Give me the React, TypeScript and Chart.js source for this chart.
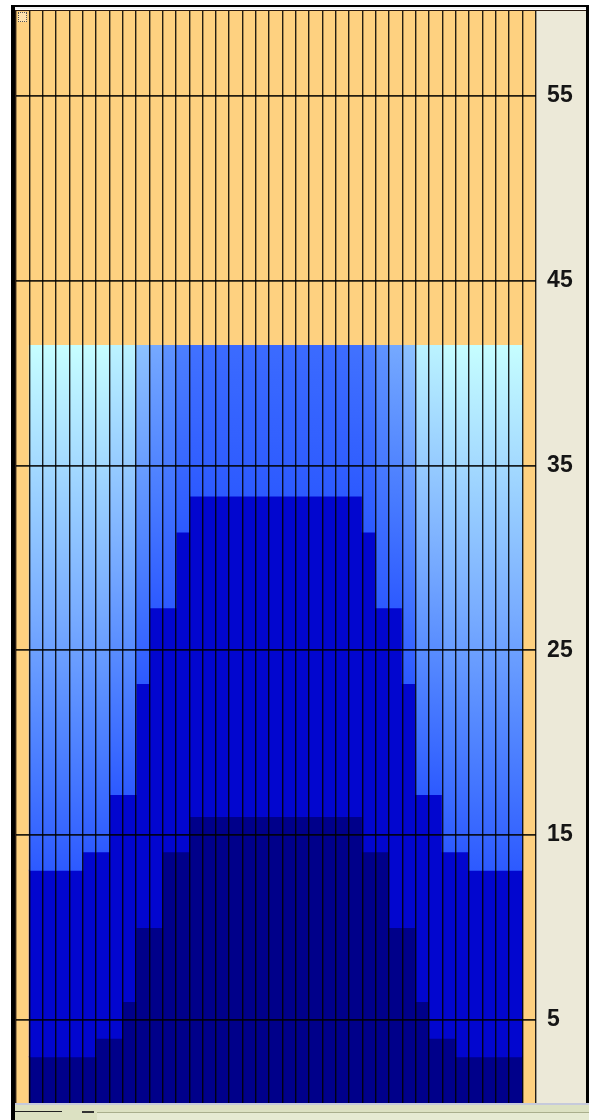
import React, { useEffect, useRef } from "react";
import { Chart, registerables } from "chart.js";

Chart.register(...registerables);

// ---- data ----
const columnLabels = [
  "", "1", "2", "3", "4", "5", "6", "7", "8", "9", "10", "11", "12", "13", "14", "15", "16", "17", "18", "19",
  "20", "21", "22", "23", "24", "25", "26", "27", "28", "29", "30", "31", "32", "33", "34", "35", "36", "37", "",
];

const rowBottom = 0.5;

// top of the navy (deepest) layer per column
const navyTop = [
  null,
  3.0, 3.0, 3.0, 3.0, 3.0, 4.0, 4.0, 6.0, 10.0, 10.0, 14.1, 14.1,
  16.0, 16.0, 16.0, 16.0, 16.0, 16.0, 16.0, 16.0, 16.0, 16.0, 16.0, 16.0, 16.0,
  14.1, 14.1, 10.0, 10.0, 6.0, 4.0, 4.0, 3.0, 3.0, 3.0, 3.0, 3.0,
  null,
];

// top of the dark blue layer per column
const darkTop = [
  null,
  13.1, 13.1, 13.1, 13.1, 14.1, 14.1, 17.2, 17.2, 23.2, 27.3, 27.3, 31.4,
  33.35, 33.35, 33.35, 33.35, 33.35, 33.35, 33.35, 33.35, 33.35, 33.35, 33.35, 33.35, 33.35,
  31.4, 27.3, 27.3, 23.2, 17.2, 17.2, 14.1, 14.1, 13.1, 13.1, 13.1, 13.1,
  null,
];

// top of the light (graded) layer per column
const fillTop = [
  null,
  41.5, 41.5, 41.5, 41.5, 41.5, 41.5, 41.5, 41.5, 41.5, 41.5, 41.5, 41.5,
  41.5, 41.5, 41.5, 41.5, 41.5, 41.5, 41.5, 41.5, 41.5, 41.5, 41.5, 41.5, 41.5,
  41.5, 41.5, 41.5, 41.5, 41.5, 41.5, 41.5, 41.5, 41.5, 41.5, 41.5, 41.5,
  null,
];

// shade level reached at the top of the light layer (0 = blue, 1 = pale cyan)
const topShade = [
  null,
  1, 1, 1, 1, 1, 1, 0.93, 0.93, 0.62, 0.47, 0.34, 0.22,
  0.14, 0.11, 0.1, 0.1, 0.1, 0.1, 0.1, 0.1, 0.1, 0.1, 0.1, 0.11, 0.14,
  0.22, 0.34, 0.47, 0.62, 0.93, 0.93, 1, 1, 1, 1, 1, 1,
  null,
];

const yTicks = [5, 15, 25, 35, 45, 55];
const yMin = 0.5;
const yMax = 59.6;

// ---- styles ----
const ORANGE = "#FED180";
const PANEL = "#ECE9D8";
const NAVY = "#00008A";
const DARK = "#0206CF";
const LINE = "rgba(0,0,0,0.86)";
const SHADE_STOPS: [number, number[]][] = [
  [0, [45, 90, 255]],
  [0.25, [80, 132, 255]],
  [0.5, [122, 174, 255]],
  [0.75, [160, 214, 255]],
  [1, [198, 254, 255]],
];

function shadeColor(t: number): string {
  const x = Math.max(0, Math.min(1, t));
  for (let k = 1; k < SHADE_STOPS.length; k++) {
    const [t1, c1] = SHADE_STOPS[k];
    const [t0, c0] = SHADE_STOPS[k - 1];
    if (x <= t1) {
      const f = (x - t0) / (t1 - t0);
      const c = c0.map((v, j) => Math.round(v + (c1[j] - v) * f));
      return `rgb(${c[0]},${c[1]},${c[2]})`;
    }
  }
  const c = SHADE_STOPS[SHADE_STOPS.length - 1][1];
  return `rgb(${c[0]},${c[1]},${c[2]})`;
}

const span = (lo: (number | null)[], hi: (number | null)[]) =>
  lo.map((v, i) => (v == null || hi[i] == null ? null : [v, hi[i] as number]));

const bgPlugin = {
  id: "bgFill",
  beforeDraw(chart: any) {
    const { ctx, chartArea: a, width, height } = chart;
    ctx.save();
    ctx.fillStyle = PANEL;
    ctx.fillRect(0, 0, width, height);
    ctx.fillStyle = ORANGE;
    ctx.fillRect(a.left, a.top, a.right - a.left, a.bottom - a.top);
    ctx.restore();
  },
};

export default function App() {
  const ref = useRef<HTMLCanvasElement>(null);

  useEffect(() => {
    const canvas = ref.current;
    if (!canvas) return;
    const navyBase = navyTop.map((v) => (v == null ? null : rowBottom));

    const chart = new Chart(canvas, {
      type: "bar",
      data: {
        labels: columnLabels,
        datasets: [
          {
            label: "light",
            data: span(darkTop, fillTop) as any,
            backgroundColor: (ctx: any) => {
              const chart = ctx.chart;
              const raw = ctx.raw;
              if (!raw || !chart.chartArea || !chart.scales.y) return shadeColor(0);
              const y = chart.scales.y;
              const p0 = y.getPixelForValue(raw[0]);
              const p1 = y.getPixelForValue(raw[1]);
              const g = chart.ctx.createLinearGradient(0, p0, 0, p1);
              const top = topShade[ctx.dataIndex] ?? 0;
              for (let k = 0; k <= 10; k++) {
                const f = k / 10;
                g.addColorStop(f, shadeColor(f * top));
              }
              return g;
            },
          },
          {
            label: "dark",
            data: span(navyTop, darkTop) as any,
            backgroundColor: DARK,
          },
          {
            label: "navy",
            data: span(navyBase, navyTop) as any,
            backgroundColor: NAVY,
          },
        ],
      },
      options: {
        animation: false,
        responsive: true,
        maintainAspectRatio: false,
        events: [],
        layout: { padding: 0 },
        datasets: {
          bar: {
            grouped: false,
            barPercentage: 1,
            categoryPercentage: 1,
            borderWidth: 0,
            inflateAmount: 0.5,
          },
        } as any,
        plugins: {
          legend: { display: false },
          tooltip: { enabled: false },
        },
        scales: {
          x: {
            type: "category",
            offset: true,
            grid: {
              offset: true,
              color: LINE,
              lineWidth: 1.4,
              drawTicks: false,
              z: 1,
            } as any,
            border: { display: false },
            ticks: { display: false },
            afterFit: (s: any) => {
              s.height = 0;
              s.paddingLeft = 0;
              s.paddingRight = 0;
              s.paddingTop = 0;
              s.paddingBottom = 0;
            },
          },
          y: {
            type: "linear",
            position: "right",
            min: yMin,
            max: yMax,
            grid: {
              color: LINE,
              lineWidth: 1.8,
              drawTicks: false,
              z: 1,
            } as any,
            border: { display: false },
            ticks: {
              color: "#151515",
              padding: 11.5,
              font: { family: "'Liberation Sans', Arial, sans-serif", size: 23, weight: "bold" },
            },
            afterBuildTicks: (s: any) => {
              s.ticks = yTicks.map((v) => ({ value: v }));
            },
            afterFit: (s: any) => {
              s.width = 50.4;
              s.paddingTop = 0;
              s.paddingBottom = 0;
              s.paddingLeft = 0;
              s.paddingRight = 0;
            },
          },
        },
      },
      plugins: [bgPlugin],
    });
    return () => chart.destroy();
  }, []);

  const abs = (l: number, t: number, w: number, h: number, bg: string, extra: any = {}) => (
    <div style={{ position: "absolute", left: l, top: t, width: w, height: h, background: bg, ...extra }} />
  );

  return (
    <div
      style={{
        position: "absolute",
        left: 0,
        top: 0,
        width: 589,
        height: 1120,
        overflow: "hidden",
        background: "#ffffff",
      }}
    >
      {/* top frame */}
      {abs(11, 4.7, 578, 2.6, "#000")}
      {abs(14.5, 7.3, 574, 2.2, "#F2F2F2")}
      {abs(15, 9.5, 572, 1.5, "#2a1a10")}
      {/* left frame */}
      {abs(11, 4.7, 3.5, 1116, "#000")}
      {abs(14.5, 7.3, 1, 1096, "#F2F2F2")}
      {abs(15.3, 9.5, 1, 1094, "#2a1a10")}
      {/* chart */}
      <div style={{ position: "absolute", left: 16, top: 11, width: 570, height: 1092 }}>
        <canvas ref={ref} />
      </div>
      {/* right frame */}
      {abs(586, 4.7, 2.5, 1098, "#000")}
      {/* small corner marker */}
      {abs(18, 12, 9, 10, "rgba(255,255,255,0.35)", { border: "1px dotted #555", boxSizing: "border-box" })}
      {/* bottom strip */}
      {abs(14.5, 1103, 575, 2, "#C6CADB")}
      {abs(14.5, 1105, 575, 15, "#DCE1C2")}
      {abs(15, 1110.5, 47, 1.5, "#222")}
      {abs(82, 1111, 12, 1.5, "#333")}
      {abs(97, 1112, 492, 8, "#E6EAD2", { borderTop: "1px solid #A9AE8C", boxSizing: "border-box" })}
    </div>
  );
}
